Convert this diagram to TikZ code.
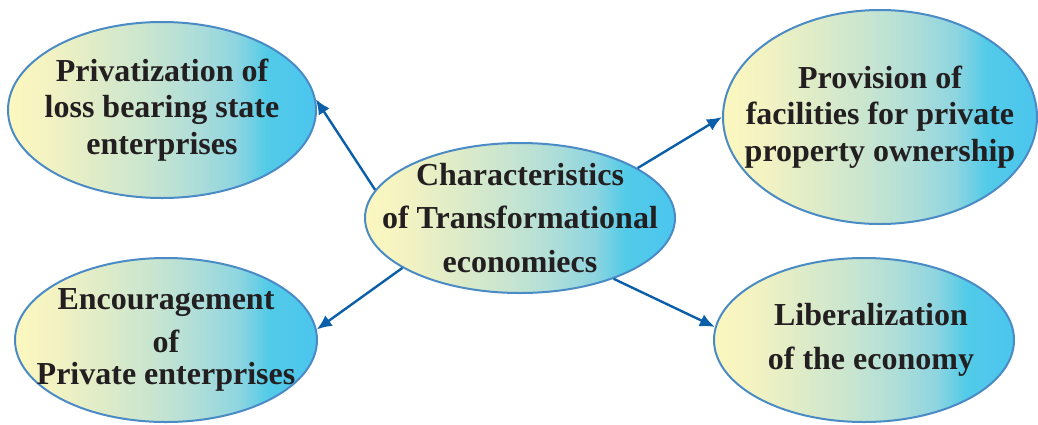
\documentclass[tikz,border=0pt]{standalone}
\usepackage{fontspec}
\setmainfont{Liberation Serif}
\usetikzlibrary{shapes.geometric,arrows.meta}
\definecolor{rimblue}{HTML}{4A8BC6}
\definecolor{arrowblue}{HTML}{0B5FA8}
\definecolor{inkblack}{HTML}{231F20}
\definecolor{shadeA}{HTML}{FCF7BE}
\definecolor{shadeB}{HTML}{F4F3C2}
\definecolor{shadeC}{HTML}{DDEBC8}
\definecolor{shadeD}{HTML}{C8E5D0}
\definecolor{shadeE}{HTML}{B0DED8}
\definecolor{shadeF}{HTML}{8ED5E0}
\definecolor{shadeG}{HTML}{52CBE8}
\definecolor{shadeH}{HTML}{4CC5EF}
\pgfdeclarehorizontalshading{bubbleshade}{100bp}{color(0bp)=(shadeA); color(25bp)=(shadeA);
  color(31bp)=(shadeB); color(40bp)=(shadeC); color(48bp)=(shadeD); color(55bp)=(shadeE);
  color(62bp)=(shadeF); color(67bp)=(shadeG); color(75bp)=(shadeH); color(100bp)=(shadeH)}

\begin{document}
\begin{tikzpicture}[x=0.5pt, y=-0.5pt,
    bubble/.style={ellipse, draw=rimblue, line width=1pt, shading=bubbleshade,
      inner sep=-40pt, align=center, text=inkblack,
      font=\fontsize{16}{18.4}\selectfont\bfseries},
    link/.style={-{Latex[length=7.5pt,width=6.5pt]}, line width=1.2pt, arrowblue}]
  \useasboundingbox (0,0) rectangle (1038,424);
  \node[bubble, minimum width=155pt, minimum height=75pt] (core) at (520,218)
    {Characteristics\\[3.5pt]of Transformational\\[3.5pt]economiecs};
  \node[bubble, minimum width=154pt, minimum height=88pt] (privat) at (162,110)
    {Privatization of\\loss bearing state\\enterprises};
  \node[bubble, minimum width=151pt, minimum height=82pt] (encour) at (166,340)
    {Encouragement\\[3pt]of\\[-2pt]Private enterprises};
  \node[bubble, minimum width=157pt, minimum height=107pt] (provis) at (880,117)
    {Provision of\\facilities for private\\property ownership};
  \node[bubble, minimum width=150pt, minimum height=82pt] (liber) at (864,340)
    {\hspace*{7pt}Liberalization\\[3.5pt]\hspace*{7pt}of the economy};
  % arrows out of the centre
  \draw[link] (core.169) -- (privat.4);
  \draw[link] (core.23) -- (provis.180);
  \draw[link] (core.203) -- (encour.4);
  \draw[link] (core.327) -- (liber.175);
\end{tikzpicture}
\end{document}
